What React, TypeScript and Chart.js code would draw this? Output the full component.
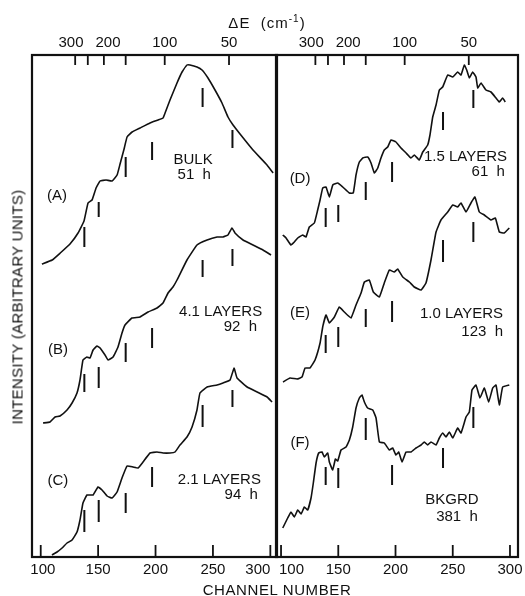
import React, { useEffect, useRef } from "react";
import { Chart, registerables } from "chart.js";
Chart.register(...registerables);

const FONT = "'Liberation Sans', Arial, sans-serif";

// ---- top axis (ΔE, cm^-1) ----
const deltaELabels = ["300  ", "", "  200", "", "100", "50"];
const deltaEChannels = [130, 141, 155, 174, 208, 264];
// ---- bottom axis (channel number) ----
const channelTicks = [100, 150, 200, 250, 300];
const leftChannelLabels = [" 100", "150", "200", "250", "300      "];
const rightChannelLabels = ["     100", "150", "200", "250", "300"];

// ---- left panel ----
const aChannel = [101,110,117,125.5,132.5,137.7,141.2,144.7,148.2,151.7,156.9,162.1,166.5,169.1,172.6,175.2,179.6,186.5,195.2,202.2,206.5,208.3,212.6,218.7,223.1,227.4,230,236.1,240.5,245.7,251.8,257.9,263.1,267.5,273.6,284.9,297.1,302.4];
const aIntensity = [293,297,304,313,324,336,354,357,369,376,377,376,382,393,408,420,425,429,434,437,439,444,457,474,485,492,492,490,487,479,467,454,440,432,423,407,392,384];

const bChannel = [102,108.1,112.5,116.8,122.9,127.3,131.6,134.2,136.8,140.3,142.9,145.6,149,151.7,156,158.6,163,167.3,170.8,173.4,179.5,186.5,193.5,201.3,206.5,210.9,215.2,218.7,227.4,236.1,244.9,253.6,258.8,263.1,266.6,269.2,276.2,284.9,293.6,300.6];
const bIntensity = [134,135,140,141,147,154,164,177,197,200,199,207,211,209,202,197,200,210,224,232,239,240,245,249,254,264,270,277,297,312,317,320,320,322,329,324,317,312,307,302];

const cChannel = [109.8,114.2,118.6,122.9,127.3,131.6,134.2,136.8,140.3,145.6,149.9,153.4,157.8,162.1,166.5,170.8,175.2,180.4,184.8,189.1,195.2,201.3,206.5,212.6,217,221.3,227.4,231.8,236.1,238.7,244.9,253.6,258.8,264.9,268.4,271,279.8,288.5,297.2,301.5];
const cIntensity = [2,5,9,14,17,25,37,54,62,62,70,67,61,59,65,79,91,90,89,95,104,105,104,104,105,112,120,130,147,164,170,172,174,177,189,179,170,165,160,155];

const leftMarkChannels = [138, 150.5, 174, 197, 241, 267];
const aMarks = [[310,330],[340,355],[380,400],[397,415],[450,469],[409,427]];
const bMarks = [[165,183],[169,190],[195,214],[209,229],[280,297],[291,308]];
const cMarks = [[25,47],[35,57],[44,64],[70,90],[130,152],[150,167]];

// ---- right panel ----
const dChannel = [101.5,104.4,108.7,111.6,114.6,118.9,121.8,124.7,129.1,132,134.1,136.4,139.3,142.2,145.2,149.5,153.9,159.7,163.1,165.5,168.4,171.4,175.7,178.6,181.5,184.5,187.3,190.2,193.2,196.1,200.4,204.8,209.2,213.5,216.4,220.8,223.8,228.1,230.1,232.5,235.4,238.3,241.2,245.6,250,254.3,257.2,260.1,262.2,264.5,267.4,270.3,271.8,274.7,279,283.4,287.8,290.7,293.6,295.9];
const dIntensity = [322,319,312,315,319,322,320,330,334,347,357,369,370,360,372,374,370,364,364,382,395,399,400,394,384,389,399,407,410,417,415,409,404,399,402,397,405,412,422,440,452,467,470,482,480,485,482,492,487,479,485,480,469,474,467,465,459,455,459,455];

const eChannel = [101.7,107.9,114,118.3,121,125.3,129.7,134.1,136.4,139.3,142.2,146.6,150.9,155.3,161.1,165.5,169.9,172.8,177.1,180.6,185.9,190.2,194.6,198.9,201.9,206.3,212.1,216.4,222.3,226.6,231,235.4,239.7,245.6,250,254.3,257.2,261.6,265.9,269.4,273.2,277.6,283.4,287.2,290.7,295,299.4];
const eIntensity = [175,179,178,180,189,189,197,214,230,242,234,240,250,245,239,252,264,275,277,265,260,274,287,285,288,280,275,270,267,274,297,325,337,345,352,350,354,345,354,360,345,342,337,339,325,324,329];

const fChannel = [101.5,105.8,108.7,111.6,114.6,117.5,120.4,123.3,126.2,128.2,130.6,132.9,135.8,137.8,140.8,142.2,145.1,147.5,149.5,152.4,156.8,159.7,162.6,165.5,168.4,170.7,172.8,175.7,180.1,183,185.9,190.2,194.6,197.5,200.4,202.8,205.7,209.2,213.5,217.9,222.3,225.2,228.1,231,235.4,238.3,241.2,244.1,247,250,254.3,257.2,261.6,264.5,266.8,270.3,273.8,277.6,281.4,284.9,287.8,290.7,293.6,299.4];
const fIntensity = [29,39,45,40,47,43,50,47,59,74,94,104,105,100,104,95,87,98,96,107,110,117,130,149,159,162,155,149,147,139,115,114,107,109,102,105,95,105,105,109,112,115,112,115,112,119,124,120,125,119,129,124,140,145,167,172,159,169,155,169,172,152,170,172];

const rightMarkChannels = [139, 150, 174, 197, 241.5, 268];
const dMarks = [[330,349],[335,352],[357,375],[375,395],[427,445],[449,467]];
const eMarks = [[204,222],[210,230],[230,248],[235,256],[295,317],[315,335]];
const fMarks = [[72,90],[69,89],[117,139],[72,92],[89,109],[129,150]];

type Label = { text: string; x: number; y: number; align: CanvasTextAlign };

const leftLabels: Label[] = [
  { text: "(A)", x: 114.2, y: 361, align: "center" },
  { text: "BULK", x: 232.7, y: 397, align: "center" },
  { text: "51  h", x: 233.7, y: 382, align: "center" },
  { text: "(B)", x: 115.1, y: 207, align: "center" },
  { text: "4.1 LAYERS", x: 292.9, y: 245, align: "right" },
  { text: "92  h", x: 288.5, y: 230, align: "right" },
  { text: "(C)", x: 115, y: 76, align: "center" },
  { text: "2.1 LAYERS", x: 291.8, y: 77, align: "right" },
  { text: "94  h", x: 289.2, y: 62, align: "right" },
];
const rightLabels: Label[] = [
  { text: "(D)", x: 116.6, y: 378, align: "center" },
  { text: "1.5 LAYERS", x: 297.4, y: 400, align: "right" },
  { text: "61  h", x: 295.6, y: 385, align: "right" },
  { text: "(E)", x: 116.6, y: 244, align: "center" },
  { text: "1.0 LAYERS", x: 293.9, y: 243, align: "right" },
  { text: "123  h", x: 293.9, y: 225, align: "right" },
  { text: "(F)", x: 116.6, y: 114, align: "center" },
  { text: "BKGRD", x: 249.3, y: 57, align: "center" },
  { text: "381  h", x: 253.7, y: 40, align: "center" },
];

function toXY(xs: number[], ys: number[]) {
  return xs.map((x, i) => ({ x, y: ys[i] }));
}
function markData(chs: number[], marks: number[][]) {
  return marks.flatMap(([lo, hi], i) => [
    { x: chs[i], y: lo },
    { x: chs[i], y: hi },
    { x: chs[i], y: null as any },
  ]);
}

function makeConfig(
  curves: { ch: number[]; v: number[] }[],
  markCh: number[],
  marks: number[][][],
  labels: Label[],
  bottomLabels: string[],
  xmin: number,
  xmax: number,
  padL: number,
  padR: number
): any {
  const datasets: any[] = [];
  curves.forEach((c) =>
    datasets.push({
      data: toXY(c.ch, c.v),
      borderColor: "#111",
      borderWidth: 1.6,
      pointRadius: 0,
      tension: 0.1,
      fill: false,
    })
  );
  marks.forEach((m) =>
    datasets.push({
      data: markData(markCh, m),
      borderColor: "#111",
      borderWidth: 2,
      pointRadius: 0,
      spanGaps: false,
      fill: false,
    })
  );
  const framePlugin = {
    id: "frame",
    afterDatasetsDraw(chart: any) {
      const { ctx, chartArea: a, scales } = chart;
      ctx.save();
      ctx.strokeStyle = "#111";
      ctx.lineWidth = 2.2;
      ctx.strokeRect(a.left, a.top, a.right - a.left, a.bottom - a.top);
      ctx.lineWidth = 1.8;
      scales.x.ticks.forEach((t: any) => {
        const px = scales.x.getPixelForValue(t.value);
        ctx.beginPath();
        ctx.moveTo(px, a.bottom);
        ctx.lineTo(px, a.bottom - 12);
        ctx.stroke();
      });
      scales.xTop.ticks.forEach((t: any) => {
        const px = scales.xTop.getPixelForValue(t.value);
        ctx.beginPath();
        ctx.moveTo(px, a.top);
        ctx.lineTo(px, a.top + 10);
        ctx.stroke();
      });
      ctx.fillStyle = "#111";
      ctx.font = `15px ${FONT}`;
      ctx.textBaseline = "middle";
      labels.forEach((l) => {
        ctx.textAlign = l.align;
        ctx.fillText(l.text, scales.x.getPixelForValue(l.x), scales.y.getPixelForValue(l.y));
      });
      ctx.restore();
    },
  };
  const noPad = (s: any, h: number) => {
    s.height = h;
    s.paddingLeft = 0;
    s.paddingRight = 0;
  };
  return {
    type: "line",
    data: { datasets },
    plugins: [framePlugin],
    options: {
      animation: false,
      responsive: false,
      layout: { padding: { left: padL, right: padR, top: 0, bottom: 0 } },
      plugins: { legend: { display: false }, tooltip: { enabled: false } },
      scales: {
        x: {
          type: "linear",
          position: "bottom",
          min: xmin,
          max: xmax,
          afterBuildTicks: (s: any) => {
            s.ticks = channelTicks.map((v) => ({ value: v }));
          },
          afterFit: (s: any) => noPad(s, 39),
          grid: { display: false, drawTicks: false },
          border: { display: false },
          ticks: {
            autoSkip: false,
            maxRotation: 0,
            minRotation: 0,
            padding: 4,
            color: "#111",
            font: { family: FONT, size: 15 },
            callback: (_v: any, i: number) => bottomLabels[i],
          },
        },
        xTop: {
          type: "linear",
          position: "top",
          min: xmin,
          max: xmax,
          afterBuildTicks: (s: any) => {
            s.ticks = deltaEChannels.map((v) => ({ value: v }));
          },
          afterFit: (s: any) => noPad(s, 55),
          grid: { display: false, drawTicks: false },
          border: { display: false },
          ticks: {
            autoSkip: false,
            maxRotation: 0,
            minRotation: 0,
            padding: 3,
            color: "#111",
            font: { family: FONT, size: 15 },
            callback: (_v: any, i: number) => deltaELabels[i],
          },
        },
        y: { type: "linear", min: 0, max: 502, display: false },
      },
    },
  };
}

export default function App() {
  const leftRef = useRef<HTMLCanvasElement>(null);
  const rightRef = useRef<HTMLCanvasElement>(null);
  useEffect(() => {
    const left = new Chart(
      leftRef.current!,
      makeConfig(
        [
          { ch: aChannel, v: aIntensity },
          { ch: bChannel, v: bIntensity },
          { ch: cChannel, v: cIntensity },
        ],
        leftMarkChannels,
        [aMarks, bMarks, cMarks],
        leftLabels,
        leftChannelLabels,
        92.4,
        305.8,
        32,
        13
      )
    );
    const right = new Chart(
      rightRef.current!,
      makeConfig(
        [
          { ch: dChannel, v: dIntensity },
          { ch: eChannel, v: eIntensity },
          { ch: fChannel, v: fIntensity },
        ],
        rightMarkChannels,
        [dMarks, eMarks, fMarks],
        rightLabels,
        rightChannelLabels,
        95.6,
        307,
        16,
        7
      )
    );
    return () => {
      left.destroy();
      right.destroy();
    };
  }, []);

  const txt: React.CSSProperties = {
    position: "absolute",
    fontFamily: FONT,
    fontSize: 15,
    color: "#111",
    whiteSpace: "pre",
    lineHeight: "15px",
    letterSpacing: 1,
  };

  return (
    <div style={{ position: "absolute", left: 0, top: 0, width: 525, height: 596, background: "#fff" }}>
      <canvas ref={leftRef} width={290} height={596} style={{ position: "absolute", left: 0, top: 0, width: 290, height: 596 }} />
      <canvas ref={rightRef} width={265} height={596} style={{ position: "absolute", left: 260, top: 0, width: 265, height: 596 }} />
      <div style={{ ...txt, left: 267, top: 15, transform: "translateX(-50%)" }}>
        ΔE  (cm<sup style={{ fontSize: 10, verticalAlign: "6px", lineHeight: 0 }}>-1</sup>)
      </div>
      <div style={{ ...txt, left: 277, top: 582, letterSpacing: 0.6, transform: "translateX(-50%)" }}>CHANNEL NUMBER</div>
      <div
        style={{
          ...txt,
          left: 17,
          top: 307,
          letterSpacing: 0.3,
          transform: "translate(-50%, -50%) rotate(-90deg)",
        }}
      >
        INTENSITY (ARBITRARY UNITS)
      </div>
    </div>
  );
}
